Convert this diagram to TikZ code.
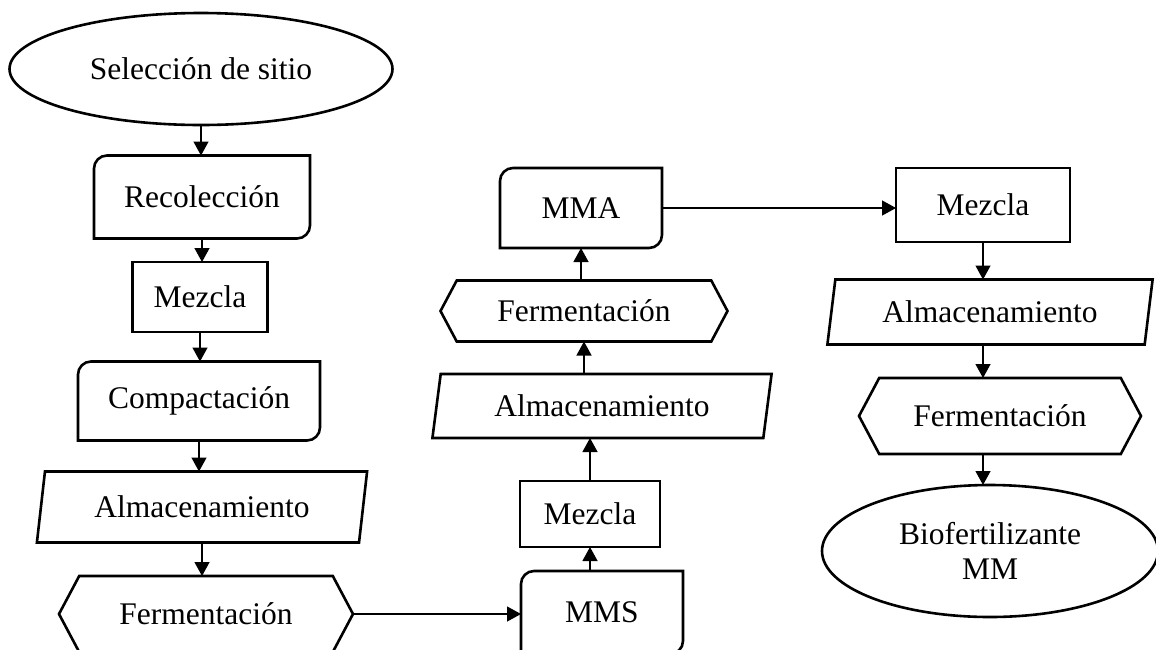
\documentclass[tikz,border=0pt]{standalone}
\usepackage{fontspec}
\setmainfont{Liberation Serif}
\usetikzlibrary{shapes.geometric,shapes.symbols,arrows.meta}

\tikzset{
  every node/.style={font=\fontsize{31.5}{35}\selectfont, align=center, inner sep=0pt, outer sep=0pt},
  border/.style={line width=2.6pt},
  oval/.style={ellipse, draw, border},
  plainbox/.style={rectangle, draw, border},
  altbox/.style={rectangle},
  iobox/.style={trapezium, trapezium left angle=76, trapezium right angle=104, trapezium stretches=true, draw, border},
  prepbox/.style={signal, signal to=west and east, signal pointer angle=124, draw, border},
  arr/.style={-{Triangle[width=15pt,length=14pt]}, line width=1.3pt}
}

\begin{document}
\begin{tikzpicture}[x=1pt, y=-1pt]
    \useasboundingbox (0,0) rectangle (1156,649);
    \clip (0,0) rectangle (1156,649);

    % left column
    \node [oval, minimum width=383pt, minimum height=112pt] (sel) at (201,69) {Selección de sitio};
    \node [altbox, minimum width=216pt, minimum height=83pt] (rec) at (202,197) {Recolección};
    \node [plainbox, minimum width=135pt, minimum height=70pt] (mezl) at (200,297) {Mezcla};
    \node [altbox, minimum width=242pt, minimum height=79pt] (comp) at (199,401) {Compactación};
    \node [iobox, minimum width=331pt, minimum height=71pt] (alml) at (202,507) {Almacenamiento};
    \node [prepbox, minimum width=294pt, minimum height=76pt] (ferml) at (206,614) {Fermentación};

    % middle column
    \node [altbox, minimum width=162pt, minimum height=83pt] (mms) at (602,612.5) {MMS};
    \node [plainbox, minimum width=140pt, minimum height=66pt] (mezm) at (590,514) {Mezcla};
    \node [iobox, minimum width=340pt, minimum height=64pt] (almm) at (602,406) {Almacenamiento};
    \node [prepbox, minimum width=287pt, minimum height=61pt] (fermm) at (584,311) {Fermentación};
    \node [altbox, minimum width=162pt, minimum height=80pt] (mma) at (581,208) {MMA};

    % right column
    \node [plainbox, minimum width=174pt, minimum height=74pt] (mezr) at (983,205) {Mezcla};
    \node [iobox, minimum width=326pt, minimum height=65pt] (almr) at (990,312) {Almacenamiento};
    \node [prepbox, minimum width=282pt, minimum height=76pt] (fermr) at (1000,416) {Fermentación};
    \node [oval, minimum width=336pt, minimum height=132pt] (bio) at (990,551) {Biofertilizante\\MM};

    % borders of the boxes with two rounded corners
    \foreach \n in {rec,comp,mms,mma}
        \draw[border] (\n.south west) -- ([yshift=-13pt]\n.north west)
            arc[start angle=180, end angle=90, radius=13pt] -- (\n.north east)
            -- ([yshift=13pt]\n.south east)
            arc[start angle=0, end angle=-90, radius=13pt] -- cycle;

    % connectors
    \draw[arr] (sel.south) -- (sel.south |- rec.north);
    \draw[arr] (rec.south) -- (rec.south |- mezl.north);
    \draw[arr] (mezl.south) -- (mezl.south |- comp.north);
    \draw[arr] (comp.south) -- (comp.south |- alml.north);
    \draw[arr] (alml.south) -- (alml.south |- ferml.north);
    \draw[arr] (ferml.east) -- (ferml.east -| mms.west);

    \draw[arr] (mezm.south |- mms.north) -- (mezm.south);
    \draw[arr] (mezm.north) -- (mezm.north |- almm.south);
    \draw[arr] (fermm.south |- almm.north) -- (fermm.south);
    \draw[arr] (mma.south |- fermm.north) -- (mma.south);
    \draw[arr] (mma.east) -- (mma.east -| mezr.west);

    \draw[arr] (mezr.south) -- (mezr.south |- almr.north);
    \draw[arr] (mezr.south |- almr.south) -- (mezr.south |- fermr.north);
    \draw[arr] (mezr.south |- fermr.south) -- (mezr.south |- bio.north);
\end{tikzpicture}
\end{document}
